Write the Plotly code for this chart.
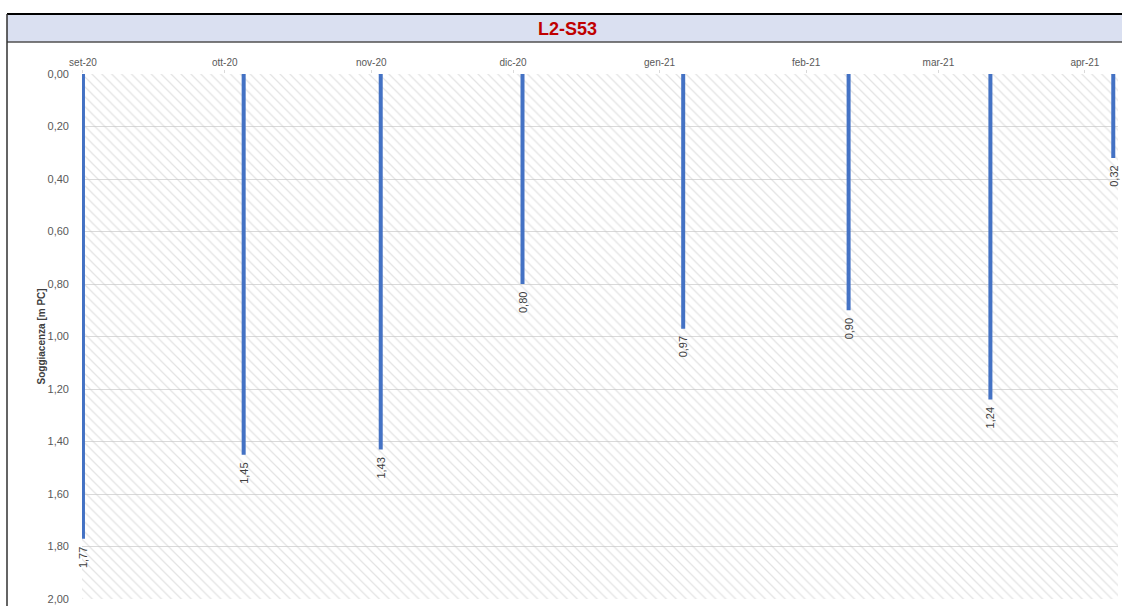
import plotly.graph_objects as go
from datetime import datetime

# ---- data ----
dates = ["2020-09-01", "2020-10-05", "2020-11-03", "2020-12-03",
         "2021-01-06", "2021-02-10", "2021-03-12", "2021-04-07"]
values = [1.77, 1.45, 1.43, 0.80, 0.97, 0.90, 1.24, 0.32]
tick_dates = ["2020-09-01", "2020-10-01", "2020-11-01", "2020-12-01",
              "2021-01-01", "2021-02-01", "2021-03-01", "2021-04-01"]
tick_labels = ["set-20", "ott-20", "nov-20", "dic-20",
               "gen-21", "feb-21", "mar-21", "apr-21"]
title_text = "L2-S53"
y_title = "Soggiacenza [m PC]"

# ---- layout constants ----
W, H = 1122, 606
L, R, T, B = 82, 4, 74, 7
x_start = datetime(2020, 8, 31, 19)
x_end = datetime(2021, 4, 8, 0)
pw = W - L - R
ph = H - T - B

def px_x(p):
    return (p - L) / pw

def px_y(p):
    return (H - B - p) / ph

fig = go.Figure()

# hatched background
span_ms = (x_end - x_start).total_seconds() * 1000
fig.add_trace(go.Bar(
    x=[x_start], y=[2.0], base=[0], width=[span_ms], offset=0,
    marker=dict(color="rgba(0,0,0,0)", line=dict(width=0),
                pattern=dict(shape="\\", fgcolor="#c8c8c8",
                             bgcolor="rgba(0,0,0,0)", size=7, solidity=0.18)),
    hoverinfo="skip", showlegend=False))

# vertical depth lines
lx, ly = [], []
for d, v in zip(dates, values):
    lx += [d, d, None]
    ly += [0, v, None]
fig.add_trace(go.Scatter(x=lx, y=ly, mode="lines",
                         line=dict(color="#4472C4", width=4),
                         showlegend=False, hoverinfo="skip"))

# data labels
for d, v in zip(dates, values):
    fig.add_annotation(x=d, y=v, text=f"{v:.2f}".replace(".", ","),
                       textangle=-90, showarrow=False, xanchor="center",
                       yanchor="top", yshift=-6,
                       font=dict(size=11, color="#404040", family="Liberation Sans"))

# y-axis title
fig.add_annotation(x=px_x(33), y=px_y(337), xref="paper", yref="paper",
                   text=f"<b>{y_title}</b>", textangle=-90, showarrow=False,
                   font=dict(size=10, color="#404040", family="Liberation Sans"))

# frame and title band
fig.add_shape(type="rect", xref="paper", yref="paper",
              x0=px_x(7), x1=px_x(1123), y0=px_y(42), y1=px_y(14),
              fillcolor="#DAE0F1", line=dict(width=0), layer="below")
fig.add_shape(type="line", xref="paper", yref="paper",
              x0=px_x(7), x1=px_x(1123), y0=px_y(42), y1=px_y(42),
              line=dict(color="#505050", width=1.5))
fig.add_shape(type="line", xref="paper", yref="paper",
              x0=px_x(7), x1=px_x(1123), y0=px_y(14), y1=px_y(14),
              line=dict(color="#000000", width=2))
fig.add_shape(type="line", xref="paper", yref="paper",
              x0=px_x(7), x1=px_x(7), y0=px_y(14), y1=px_y(607),
              line=dict(color="#303030", width=1.5))

fig.add_annotation(x=px_x(567), y=px_y(29), xref="paper", yref="paper",
                   text=f"<b>{title_text}</b>", showarrow=False,
                   xanchor="center", yanchor="middle",
                   font=dict(size=18, color="#C00000", family="Liberation Sans"))

fig.update_layout(
    width=W, height=H,
    margin=dict(l=L, r=R, t=T, b=B, autoexpand=False),
    paper_bgcolor="white", plot_bgcolor="white",
    separators=",.",
    barmode="overlay",
    showlegend=False,
    font=dict(family="Liberation Sans", size=10, color="#595959"),
    xaxis=dict(type="date", range=[x_start, x_end], side="top",
               tickvals=tick_dates, ticktext=tick_labels,
               ticks="outside", ticklen=3, tickcolor="#d9d9d9",
               showgrid=False, zeroline=False, showline=False,
               tickfont=dict(size=10, color="#595959")),
    yaxis=dict(range=[2.0, 0.0], tick0=0, dtick=0.2, tickformat=".2f",
               showgrid=True, gridcolor="#d9d9d9", gridwidth=1,
               zeroline=False, showline=False, ticks="",
               ticklabelstandoff=12,
               tickfont=dict(size=11, color="#595959")),
)

fig.write_html("out.html",
               config={"displayModeBar": False},
               post_script="document.body.style.margin='0px';"
                           "document.body.style.overflow='hidden';")
